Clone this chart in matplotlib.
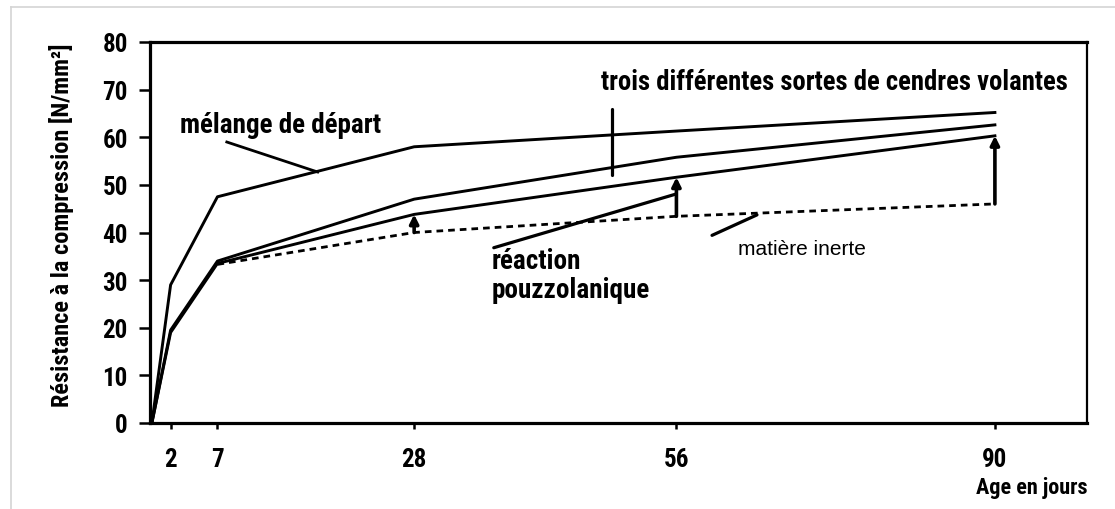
import matplotlib.pyplot as plt
from matplotlib.lines import Line2D

# compressive strength (N/mm2) against age (days)
days = [0, 2, 7, 28, 56, 90]
melange = [0, 29, 47.5, 58, 61.3, 65.2]
cendres_a = [0, 19.5, 34, 47, 55.8, 62.6]
cendres_b = [0, 19, 33.5, 43.8, 51.6, 60.3]

# inert filler reference line
inerte_days = [7, 28, 56, 90]
inerte = [33.3, 40, 43.4, 46]

xticks = [2, 7, 28, 56, 90]
yticks = [0, 10, 20, 30, 40, 50, 60, 70, 80]

W, H = 1115, 510
fig = plt.figure(figsize=(W / 100, H / 100), dpi=100)
ax = fig.add_axes([150 / W, (H - 424) / H, (1086.7 - 150) / W, (424 - 43) / H])

narrow = ['Roboto Condensed', 'Roboto', 'DejaVu Sans']
regular = ['Liberation Sans', 'DejaVu Sans']

lw = 2.1
ax.plot(days, melange, color='black', lw=lw)
ax.plot(days, cendres_a, color='black', lw=lw)
ax.plot(days, cendres_b, color='black', lw=lw)
ax.plot(inerte_days, inerte, color='black', lw=2.0, linestyle=(0, (2.4, 1.8)))

# arrows: gain of the fly ash over the inert filler
for d in [28, 56, 90]:
    y0 = inerte[inerte_days.index(d)]
    y1 = cendres_b[days.index(d)]
    ax.annotate('', xy=(d, y1), xytext=(d, y0),
                arrowprops=dict(arrowstyle='-|>', color='black', lw=2.6,
                                mutation_scale=13, shrinkA=0, shrinkB=0))

# leader lines for the labels
ax.plot([8.0, 17.7], [59.0, 52.7], color='black', lw=2.0)
ax.plot([49.1, 49.1], [52.0, 65.9], color='black', lw=2.3, solid_capstyle='round')
ax.plot([36.5, 56.0], [36.8, 48.1], color='black', lw=2.3, solid_capstyle='round')
ax.plot([59.8, 64.6], [39.4, 43.7], color='black', lw=2.3, solid_capstyle='round')

ax.text(3.0, 62.6, 'mélange de départ', family=narrow, fontweight='bold',
        fontsize=19.5, ha='left', va='center')
ax.text(47.9, 71.8, 'trois différentes sortes de cendres volantes', family=narrow,
        fontweight='bold', fontsize=19.2, ha='left', va='center')
ax.text(36.3, 31.0, 'réaction\npouzzolanique', family=narrow, fontweight='bold',
        fontsize=19.5, ha='left', va='center', linespacing=1.1)
ax.text(62.6, 36.6, 'matière inerte', family=regular, fontsize=15,
        ha='left', va='center')

ax.set_xlim(-0.2, 99.8)
ax.set_ylim(0, 80)
ax.set_xticks(xticks)
ax.set_yticks(yticks)
ax.set_xticklabels([str(v) for v in xticks], family=narrow, fontweight='bold', fontsize=18)
ax.set_yticklabels([str(v) for v in yticks], family=narrow, fontweight='bold', fontsize=18)
ax.tick_params(axis='x', direction='out', length=4, width=1.8, pad=13)
ax.tick_params(axis='y', direction='out', length=8, width=1.8, pad=8)

for side in ['left', 'bottom', 'top']:
    ax.spines[side].set_linewidth(2.3)
ax.spines['right'].set_linewidth(1.6)

fig.text(62 / W, (H - 225) / H, 'Résistance à la compression [N/mm²]',
         family=narrow, fontweight='bold', fontsize=17.5, rotation=90,
         ha='center', va='center')
fig.text(1088 / W, (H - 488) / H, 'Age en jours', family=narrow, fontweight='bold',
         fontsize=16, ha='right', va='center')

# thin grey frame around the figure
fig.add_artist(Line2D([11 / W, 11 / W], [0, (H - 8) / H], color='#d4d4d4', lw=1.2))
fig.add_artist(Line2D([11 / W, 1], [(H - 8) / H, (H - 8) / H], color='#d4d4d4', lw=1.2))

fig.savefig('out.png', dpi=100, facecolor='white')
